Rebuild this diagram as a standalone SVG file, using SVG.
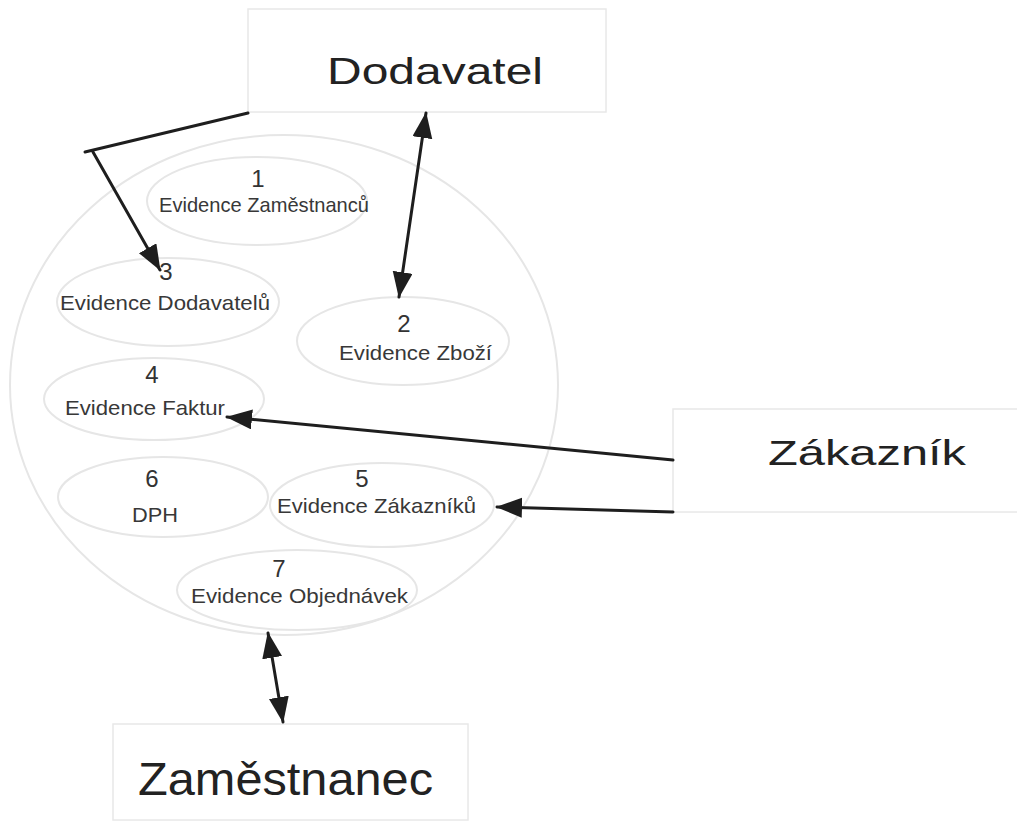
<svg xmlns="http://www.w3.org/2000/svg" width="1017" height="823" viewBox="0 0 1017 823">
  <style>
    .box { fill: #ffffff; stroke: #e8e8e8; stroke-width: 1.5; }
    .ell { fill: none; stroke: #e6e6e6; stroke-width: 2; }
    .big { font-family: "Liberation Sans", Arial, sans-serif; fill: #222222; text-anchor: middle; }
    .num { font-family: "Liberation Sans", Arial, sans-serif; font-size: 24px; fill: #333333; text-anchor: middle; }
    .lbl { font-family: "Liberation Sans", Arial, sans-serif; font-size: 21px; fill: #383838; text-anchor: middle; }
    .con { fill: none; stroke: #1e1e1e; stroke-width: 3; stroke-linecap: round; }
  </style>
  <defs>
    <marker id="arrow" markerUnits="userSpaceOnUse" markerWidth="28" markerHeight="22" refX="25" refY="10" orient="auto-start-reverse" viewBox="0 0 28 22">
      <path d="M0,0 L26,10 L0,20 Z" fill="#1e1e1e"/>
    </marker>
  </defs>
  <rect width="1017" height="823" fill="#ffffff"/>

  <g id="system">
    <ellipse class="ell" cx="284" cy="385" rx="274" ry="250"/>
  </g>

  <g id="dodavatel">
    <rect class="box" x="248" y="9" width="358" height="103"/>
    <text class="big" x="435" y="84" font-size="36" textLength="216" lengthAdjust="spacingAndGlyphs">Dodavatel</text>
  </g>
  <g id="zakaznik">
    <rect class="box" x="673" y="409" width="350" height="103"/>
    <text class="big" x="867" y="465" font-size="35" textLength="198" lengthAdjust="spacingAndGlyphs">Zákazník</text>
  </g>
  <g id="zamestnanec">
    <rect class="box" x="113" y="724" width="355" height="96"/>
    <text class="big" x="285.5" y="795" font-size="46" textLength="295" lengthAdjust="spacingAndGlyphs">Zaměstnanec</text>
  </g>

  <g id="p1">
    <ellipse class="ell" cx="257" cy="201" rx="110" ry="44"/>
    <text class="num" x="258" y="187">1</text>
    <text class="lbl" x="264" y="212" textLength="210" lengthAdjust="spacingAndGlyphs">Evidence Zaměstnanců</text>
  </g>
  <g id="p3">
    <ellipse class="ell" cx="168" cy="302" rx="111" ry="44"/>
    <text class="num" x="166" y="280">3</text>
    <text class="lbl" x="165" y="310" textLength="210" lengthAdjust="spacingAndGlyphs">Evidence Dodavatelů</text>
  </g>
  <g id="p2">
    <ellipse class="ell" cx="403" cy="341" rx="106" ry="44"/>
    <text class="num" x="404" y="332">2</text>
    <text class="lbl" x="415.5" y="360" textLength="153" lengthAdjust="spacingAndGlyphs">Evidence Zboží</text>
  </g>
  <g id="p4">
    <ellipse class="ell" cx="154" cy="399" rx="110" ry="41"/>
    <text class="num" x="152" y="383">4</text>
    <text class="lbl" x="145" y="415" textLength="160" lengthAdjust="spacingAndGlyphs">Evidence Faktur</text>
  </g>
  <g id="p6">
    <ellipse class="ell" cx="163" cy="497" rx="105" ry="40"/>
    <text class="num" x="152" y="487">6</text>
    <text class="lbl" x="155" y="522" textLength="46" lengthAdjust="spacingAndGlyphs">DPH</text>
  </g>
  <g id="p5">
    <ellipse class="ell" cx="382" cy="505" rx="112" ry="42"/>
    <text class="num" x="362" y="487">5</text>
    <text class="lbl" x="376.5" y="513" textLength="199" lengthAdjust="spacingAndGlyphs">Evidence Zákazníků</text>
  </g>
  <g id="p7">
    <ellipse class="ell" cx="297" cy="590" rx="120" ry="40"/>
    <text class="num" x="279" y="577">7</text>
    <text class="lbl" x="299.5" y="603" textLength="217" lengthAdjust="spacingAndGlyphs">Evidence Objednávek</text>
  </g>

  <g id="connectors">
    <path class="con" d="M248,113 L85,152"/>
    <path class="con" d="M93,152 L160,270" marker-end="url(#arrow)"/>
    <path class="con" d="M426,113 L399,297" marker-start="url(#arrow)" marker-end="url(#arrow)"/>
    <path class="con" d="M673,460 L227,417" marker-end="url(#arrow)"/>
    <path class="con" d="M673,512 L497,507" marker-end="url(#arrow)"/>
    <path class="con" d="M268,633 L283,722" marker-start="url(#arrow)" marker-end="url(#arrow)"/>
  </g>
</svg>
